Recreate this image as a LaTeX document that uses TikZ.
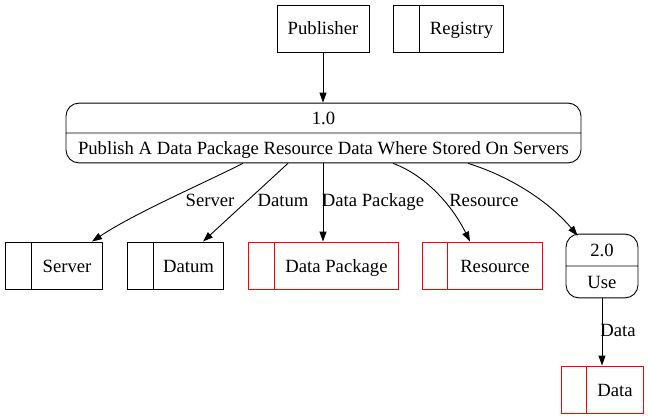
\documentclass[tikz,border=0pt]{standalone}
\usepackage{fontspec}
\setmainfont{Liberation Serif}
\usetikzlibrary{arrows.meta,shapes.multipart}
\newcommand{\dgfont}{\fontsize{18.67pt}{22pt}\selectfont}
\newcommand{\pstrut}{\rule[-4.5pt]{0pt}{22pt}}
\begin{document}
\begin{tikzpicture}[x=1pt,y=-1pt,
  every node/.style={font=\dgfont},
  line width=0.9pt,
  ent/.style={draw, minimum width=92pt, minimum height=47pt, inner sep=0pt, text height=13pt, text depth=0pt},
  store/.style={draw, minimum height=47pt, inner sep=0pt, text height=13pt, text depth=0pt},
  redstore/.style={store, draw=red},
  proc/.style={draw, rectangle split, rectangle split parts=2, rounded corners=13pt, inner xsep=2pt},
  flow/.style={-{Triangle[length=10pt,width=7pt]}},
  lbl/.style={inner sep=0pt, text height=13pt, text depth=0pt}]
\useasboundingbox (0,0) rectangle (649,420);
% top
\node[ent] (pub) at (323,28.5) {Publisher};
\node[store, minimum width=110pt] (reg) at (448,28.5) {\hspace*{27pt}Registry};
\draw ([xshift=27pt]reg.north west) -- ([xshift=27pt]reg.south west);
% process 1.0
\node[proc, minimum width=515pt, inner ysep=3.5pt] (p1) at (323.5,133) {\pstrut 1.0\nodepart{two}\pstrut Publish A Data Package Resource Data Where Stored On Servers};
% stores
\node[store, minimum width=97pt] (srv) at (53.5,265.5) {\hspace*{27pt}Server};
\draw ([xshift=27pt]srv.north west) -- ([xshift=27pt]srv.south west);
\node[store, minimum width=96pt] (dtm) at (175,265.5) {\hspace*{27pt}Datum};
\draw ([xshift=27pt]dtm.north west) -- ([xshift=27pt]dtm.south west);
\node[redstore, minimum width=150pt] (dp) at (323,265.5) {\hspace*{27pt}Data Package};
\draw[red] ([xshift=27pt]dp.north west) -- ([xshift=27pt]dp.south west);
\node[redstore, minimum width=120pt] (res) at (482,265.5) {\hspace*{26pt}Resource};
\draw[red] ([xshift=26pt]res.north west) -- ([xshift=26pt]res.south west);
% process 2.0
\node[proc, minimum width=72pt, inner ysep=4.5pt] (p2) at (602,266) {\pstrut 2.0\nodepart{two}\pstrut Use};
\node[redstore, minimum width=82pt] (dt) at (602,389.5) {\hspace*{26pt}Data};
\draw[red] ([xshift=26pt]dt.north west) -- ([xshift=26pt]dt.south west);
% flows
\draw[flow] (pub.south) -- (pub.south |- p1.north);
\draw[flow] ([xshift=-80.5pt]p1.south) .. controls (200,185) and (135,213) .. ([xshift=38.5pt]srv.north);
\draw[flow] ([xshift=-35.5pt]p1.south) -- ([xshift=28pt]dtm.north);
\draw[flow] (p1.south -| dp.north) -- (dp.north);
\draw[flow] ([xshift=69.5pt]p1.south) .. controls (425,175) and (452,205) .. ([xshift=-12pt]res.north);
\draw[flow] ([xshift=144.5pt]p1.south) .. controls (515,178) and (552,205) .. ([xshift=12pt,yshift=-2pt]p2.north west);
\draw[flow] (p2.south) -- (dt.north);
% labels
\node[lbl] (lsrv) at (210,200) {Server};
\node[lbl] (ldtm) at (283,200) {Datum};
\node[lbl] (ldp) at (373,200) {Data Package};
\node[lbl] (lres) at (484,200) {Resource};
\node[lbl] (ldt) at (618,330) {Data};
\end{tikzpicture}
\end{document}
